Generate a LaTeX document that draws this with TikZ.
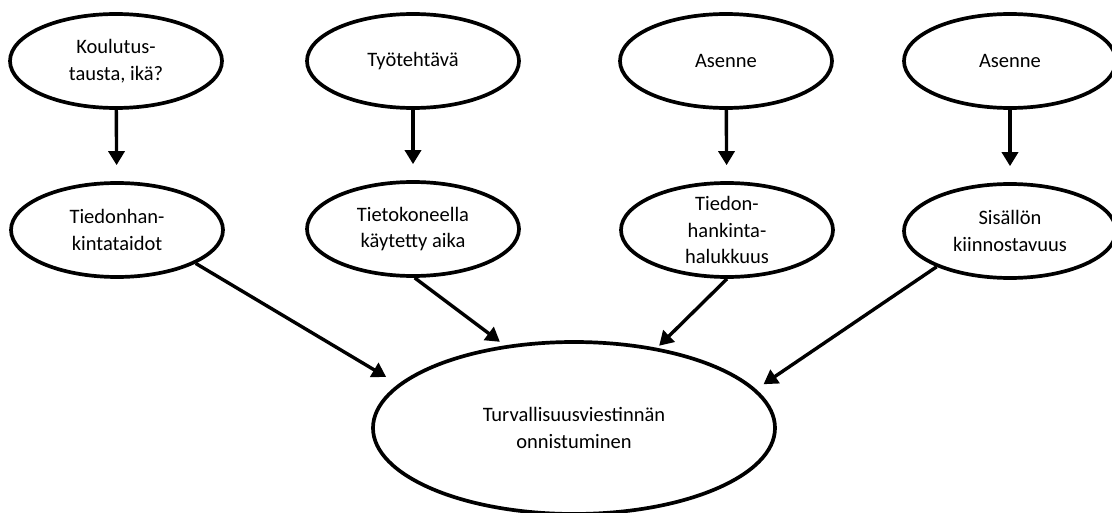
\documentclass[tikz,border=0pt]{standalone}
\usepackage{fontspec}
\setmainfont{Carlito}
\usepackage{tikz}
\usetikzlibrary{shapes.geometric,arrows.meta}

\begin{document}
\begin{tikzpicture}[x=1pt, y=-1pt,
        soikio/.style={draw, ellipse, line width=3.7pt, minimum width=212pt,
            minimum height=94pt, inner sep=0pt, align=center,
            font=\fontsize{20.5}{26.5}\selectfont},
        nuoli/.style={line width=3.4pt, -{Triangle[width=16pt,length=14pt]}}]
        \useasboundingbox (0, 0) rectangle (1112, 513);

        \node[soikio] (koulutus) at (116, 61) {Koulutus-\\tausta, ikä?};
        \node[soikio] (tyotehtava) at (413, 61) {Työtehtävä};
        \node[soikio] (asenne1) at (726, 61) {Asenne};
        \node[soikio] (asenne2) at (1010, 61) {Asenne};

        \node[soikio] (taidot) at (117, 230) {Tiedonhan-\\kintataidot};
        \node[soikio] (aika) at (413, 229) {Tietokoneella\\käytetty aika};
        \node[soikio, inner ysep=-9pt] (halu) at (727, 230) {Tiedon-\\hankinta-\\halukkuus};
        \node[soikio] (kiinnostus) at (1010, 231) {Sisällön\\kiinnostavuus};

        \node[soikio, minimum width=402pt, minimum height=172pt] (onnistuminen) at (574, 428)
            {Turvallisuusviestinnän\\onnistuminen};

        \draw[nuoli, shorten >=16pt] (koulutus) -- (taidot);
        \draw[nuoli, shorten >=16pt] (tyotehtava) -- (aika);
        \draw[nuoli, shorten >=16pt] (asenne1) -- (halu);
        \draw[nuoli, shorten >=16pt] (asenne2) -- (kiinnostus);

        \draw[nuoli, shorten >=14pt] (taidot.-23) -- (onnistuminen.166);
        \draw[nuoli, shorten >=6pt] (aika.-88) -- (onnistuminen.130);
        \draw[nuoli, shorten >=3pt] (halu.-90) -- (onnistuminen.44);
        \draw[nuoli, shorten >=9pt] (kiinnostus.-154) -- (onnistuminen.12);
    \end{tikzpicture}
\end{document}
